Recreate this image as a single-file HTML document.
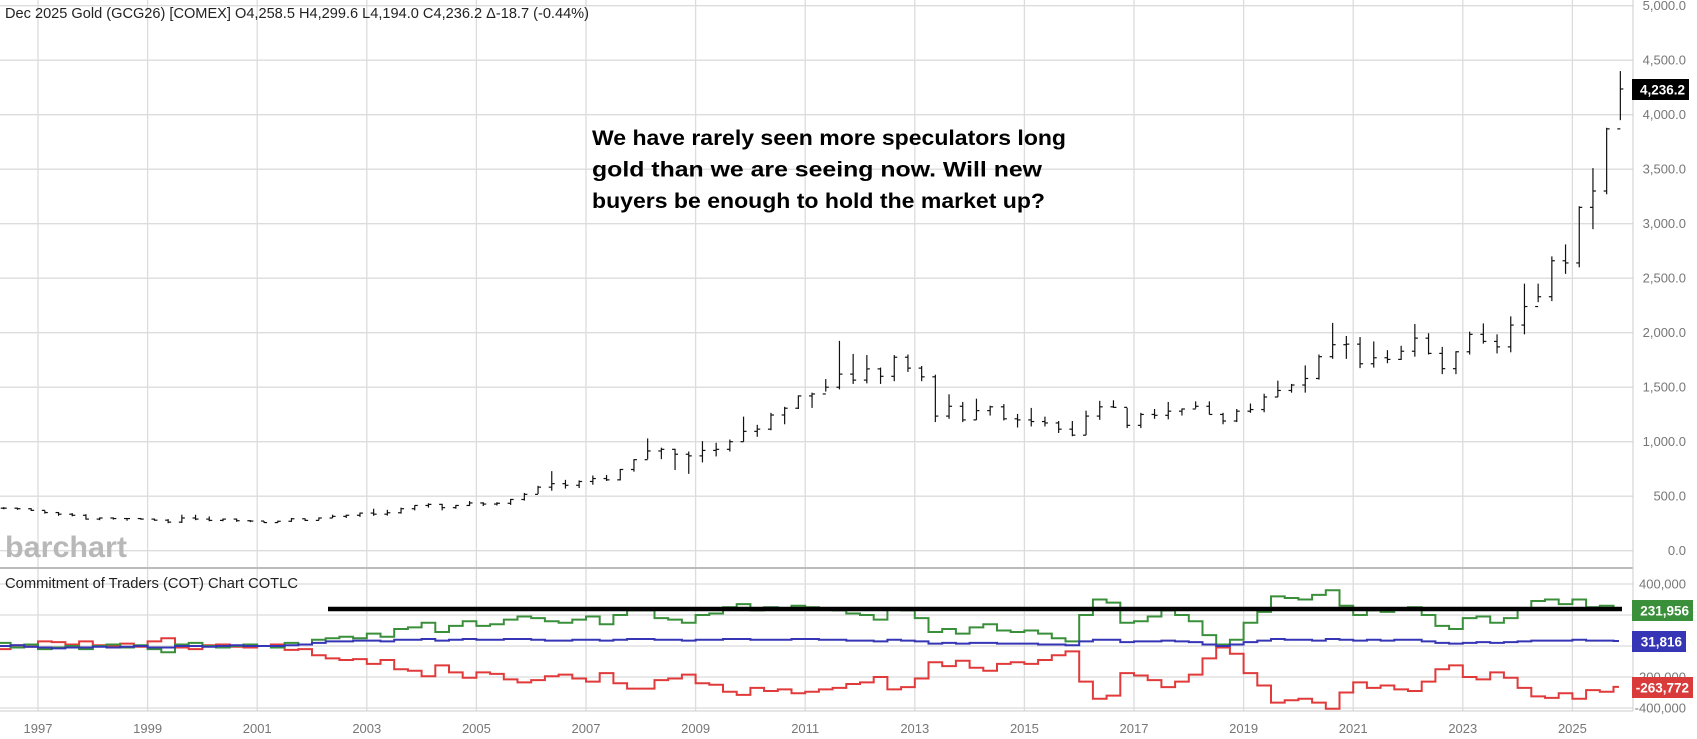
<!DOCTYPE html>
<html><head><meta charset="utf-8"><style>
body{margin:0;background:#fff;width:1697px;height:739px;overflow:hidden;font-family:"Liberation Sans",sans-serif}
svg{position:absolute;left:0;top:0}
</style></head><body>
<svg id="c" width="1697" height="739"></svg>
<script>
const years=[1997,1999,2001,2003,2005,2007,2009,2011,2013,2015,2017,2019,2021,2023,2025];
const priceTicks=[0,500,1000,1500,2000,2500,3000,3500,4000,4500,5000];
const cotTicks=[400,200,0,-200,-400];
const cotTickLabels=["400,000","","","-200,000","-400,000"];
const closes=[390,385,370,350,335,325,290,300,295,295,290,280,262,300,290,278,290,275,272,258,270,293,278,300,315,325,345,335,348,385,415,425,395,415,438,428,435,470,517,583,615,600,635,662,650,745,835,915,930,885,870,920,930,1000,1095,1115,1245,1307,1420,1438,1500,1620,1565,1668,1600,1775,1675,1595,1235,1325,1200,1285,1320,1210,1200,1185,1172,1115,1060,1235,1320,1315,1150,1250,1242,1280,1300,1325,1250,1190,1280,1295,1410,1470,1520,1580,1780,1890,1895,1715,1770,1755,1830,1950,1810,1670,1825,1985,1920,1870,2070,2240,2330,2660,2640,3150,3300,3870,4236];
const highs=[400,395,390,370,355,345,335,305,305,300,300,295,290,330,330,315,295,295,280,272,275,300,295,305,330,330,350,385,375,395,417,435,430,420,455,445,445,475,530,595,730,650,645,690,695,750,840,1030,945,935,910,1005,990,1020,1230,1155,1265,1320,1425,1450,1575,1925,1805,1795,1680,1795,1800,1695,1615,1435,1365,1395,1330,1345,1255,1310,1230,1190,1190,1285,1375,1380,1310,1265,1300,1365,1305,1370,1370,1265,1300,1350,1440,1560,1530,1700,1800,2090,1970,1960,1920,1840,1880,2080,1995,1870,1830,2010,2085,1985,2150,2450,2450,2700,2810,3160,3510,3880,4400];
const lows=[380,375,365,340,320,315,285,280,285,275,285,275,252,255,280,270,270,265,262,255,255,265,272,278,300,300,310,320,322,340,370,395,370,385,410,410,415,420,460,520,550,570,575,605,640,645,725,840,840,740,705,810,865,910,1000,1045,1105,1160,1300,1310,1460,1480,1530,1535,1530,1555,1640,1555,1180,1210,1180,1200,1240,1195,1130,1140,1140,1080,1050,1060,1200,1310,1125,1125,1210,1205,1240,1305,1250,1160,1180,1265,1270,1410,1450,1450,1570,1760,1760,1675,1680,1720,1750,1780,1800,1620,1620,1800,1900,1810,1820,1985,2280,2290,2540,2600,2950,3270,3950];
const specNet=[20,-10,10,-20,-10,0,-20,0,10,-10,5,-20,-40,10,20,0,-10,0,10,0,-10,20,10,40,50,60,50,80,60,110,120,150,90,130,160,130,140,170,190,180,160,150,170,190,140,200,230,230,180,170,150,200,210,250,270,230,250,240,260,250,240,230,210,200,170,240,230,180,90,110,80,120,140,100,90,100,80,50,30,200,300,280,150,160,190,230,200,160,70,10,40,150,220,320,310,300,330,360,260,200,230,220,240,250,200,130,110,180,190,150,180,240,290,300,270,300,250,260,232];
const smallNet=[0,5,-5,-10,-15,-10,-10,-5,-10,-5,0,-10,-10,0,0,-5,0,5,0,0,0,5,10,20,30,30,35,35,30,40,40,45,35,40,45,40,40,45,45,40,35,35,40,40,35,40,45,45,40,40,35,40,40,45,45,40,40,40,45,45,40,40,35,35,30,40,35,30,15,20,15,20,20,15,15,15,10,10,5,30,40,40,25,30,30,35,30,25,10,0,10,25,35,45,40,40,35,45,40,35,40,35,40,40,30,20,15,20,25,20,25,30,35,35,35,40,35,35,32];
const commNet=[-20,5,-5,30,25,10,30,5,0,15,-5,30,50,-10,-20,5,10,-5,-10,0,10,-25,-20,-60,-80,-90,-85,-115,-90,-150,-160,-195,-125,-170,-205,-170,-180,-215,-235,-220,-195,-185,-210,-230,-175,-240,-275,-275,-220,-210,-185,-240,-250,-295,-315,-270,-290,-280,-305,-295,-280,-270,-245,-235,-200,-280,-265,-210,-105,-130,-95,-140,-160,-115,-105,-115,-90,-60,-35,-230,-340,-320,-175,-190,-220,-265,-230,-185,-80,-10,-50,-175,-255,-365,-350,-340,-365,-405,-300,-235,-270,-255,-280,-290,-230,-150,-125,-200,-215,-170,-205,-270,-325,-335,-305,-340,-285,-295,-264];

const NS="http://www.w3.org/2000/svg";
const svg=document.getElementById('c');
const X=t=>38+(t-1997)*54.8;
const Yp=v=>550.7-v*0.109;
const Yc=v=>646-v*0.155;
const T0=1996.25;
function el(tag,attrs,parent){const e=document.createElementNS(NS,tag);for(const k in attrs)e.setAttribute(k,attrs[k]);(parent||svg).appendChild(e);return e;}
function txt(s,attrs){const e=el('text',attrs);e.textContent=s;return e;}

const grid=el('g',{});


years.forEach(y=>{el('line',{x1:X(y),x2:X(y),y1:0,y2:711,stroke:'#dcdcdc','stroke-width':1.3},grid);});
priceTicks.forEach(v=>{el('line',{x1:0,x2:1633,y1:Yp(v),y2:Yp(v),stroke:'#dcdcdc','stroke-width':1.3},grid);
 const t=txt((v).toLocaleString('en-US',{minimumFractionDigits:1}),{x:1686,y:Yp(v)+4.5,'text-anchor':'end','font-size':13,fill:'#777'});
 
 });
cotTicks.forEach((v,i)=>{el('line',{x1:0,x2:1633,y1:Yc(v),y2:Yc(v),stroke:'#dcdcdc','stroke-width':1.3},grid);
 if(cotTickLabels[i]){const t=txt(cotTickLabels[i],{x:1686,y:Yc(v)+4.5,'text-anchor':'end','font-size':13,fill:'#777'});
 
 }});
years.forEach(y=>{const t=txt(String(y),{x:X(y),y:733,'text-anchor':'middle','font-size':13,fill:'#777'});
 
 });
el('line',{x1:0,x2:1633,y1:568,y2:568,stroke:'#bbb','stroke-width':2});
el('line',{x1:1633,x2:1633,y1:0,y2:711,stroke:'#ccc','stroke-width':1});
el('line',{x1:0,x2:1633,y1:711,y2:711,stroke:'#ccc','stroke-width':1});

const wm=txt('barchart',{x:5,y:557,'font-size':30,'font-weight':'bold',fill:'#b8b8b8',textLength:122,lengthAdjust:'spacingAndGlyphs'});



const pb=el('g',{stroke:'#111','stroke-width':1.2});


closes.forEach((c,i)=>{
 const t=T0+i*0.25, xm=X(t+0.125);
 const b=el('line',{x1:xm,x2:xm,y1:Yp(highs[i]),y2:Yp(lows[i])},pb);
 
 
 const o=i>0?closes[i-1]:c;
 el('line',{x1:xm-3,x2:xm,y1:Yp(o),y2:Yp(o)},pb);
 el('line',{x1:xm,x2:xm+3,y1:Yp(c),y2:Yp(c)},pb);
});

function step(arr,color,name){
 let d='';
 arr.forEach((v,i)=>{const t=T0+i*0.25;const t2=Math.min(t+0.25,2025.85);
  d+=(i===0?'M':'L')+X(t)+','+Yc(v)+'L'+X(t2)+','+Yc(v);});
 const p=el('path',{d:d,fill:'none',stroke:color,'stroke-width':2});
 
 
}
step(commNet,'#e03a3a','commercials-line');
step(specNet,'#3a8f3a','large-speculators-line');
step(smallNet,'#3535b5','small-traders-line');

const al=el('line',{x1:328,x2:1622,y1:609,y2:609,stroke:'#000','stroke-width':4.5});



function badge(s,y,h,w,bg,name){
 const g=el('g',{});
 
 
 el('rect',{x:1632,y:y,width:w,height:h,fill:bg},g);
 const t=el('text',{x:1632+w-4,y:y+h/2+5,'text-anchor':'end','font-size':13.5,'font-weight':'bold',fill:'#fff'},g);t.textContent=s;
}
badge('4,236.2',79,21,57,'#000','last-price-badge');
badge('231,956',600,21,61,'#3a8f3a','spec-net-badge');
badge('31,816',631,21,54,'#3535b5','small-net-badge');
badge('-263,772',677,21,61,'#d93a3a','comm-net-badge');

const h=txt('Dec 2025 Gold (GCG26) [COMEX] O4,258.5 H4,299.6 L4,194.0 C4,236.2 Δ-18.7 (-0.44%)',{x:5,y:18,'font-size':14.5,fill:'#222',textLength:584,lengthAdjust:'spacingAndGlyphs'});


const ct=txt('Commitment of Traders (COT) Chart  COTLC',{x:5,y:588,'font-size':14.5,fill:'#222','xml:space':'preserve',textLength:293,lengthAdjust:'spacingAndGlyphs'});


const lines=['We have rarely seen more speculators long','gold than we are seeing now. Will new','buyers be enough to hold the market up?'];
const lineW=[474,450,453];
lines.forEach((s,i)=>{const t=txt(s,{x:592,y:145+i*31.5,'font-size':21.5,'font-weight':'bold',fill:'#000',textLength:lineW[i],lengthAdjust:'spacingAndGlyphs'});
 
 });
</script>
</body></html>
